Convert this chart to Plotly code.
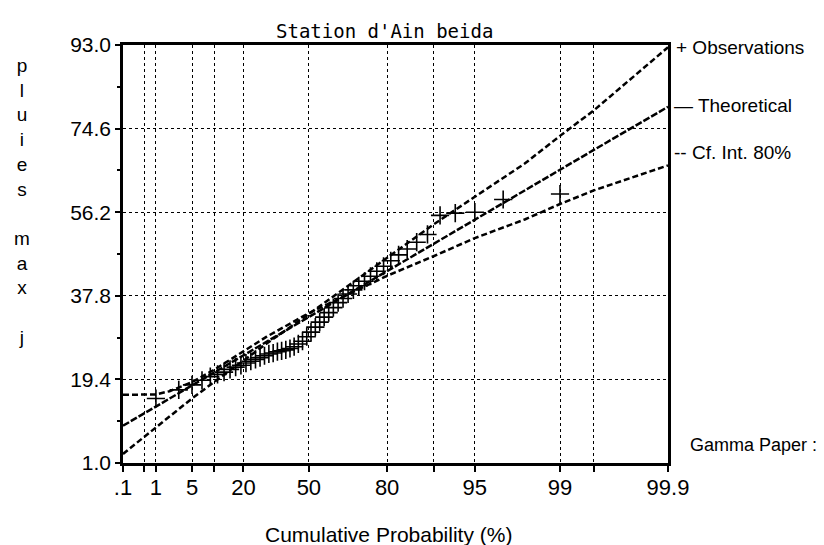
from statistics import NormalDist

import plotly.graph_objects as go

# gamma probability paper (shape 10), probabilities in %
PAPER_SHAPE = 10

obs_prob = [1, 3, 5, 7, 9, 11, 13, 15, 17, 19, 21, 23, 25, 27, 29, 31, 33, 35, 37, 39,
            41, 43, 45, 47, 49, 51, 53, 55, 57, 59, 61, 63, 65, 67, 69, 71, 73, 75, 77, 79,
            81, 83, 85, 87, 89, 91, 93, 95, 97, 99]
obs_rain = [15.2, 17.1, 18.2, 19.2, 20.0, 20.5, 21.0, 21.6, 22.1, 22.5, 23.0, 23.4, 23.8, 24.2,
            24.6, 25.0, 25.2, 25.5, 25.7, 25.9, 26.2, 26.6, 27.2, 27.8, 28.8, 29.8, 30.9, 32.0,
            33.1, 34.1, 35.2, 36.3, 37.2, 38.2, 39.1, 40.0, 41.0, 42.1, 43.2, 44.3, 45.5, 46.8,
            48.1, 49.6, 51.3, 55.5, 56.0, 56.2, 59.0, 60.2]

curve_prob = [0.1, 0.5, 1, 2, 5, 10, 20, 30, 50, 70, 80, 90, 95, 98, 99, 99.5, 99.9]
theoretical = [9.2, 11.9, 13.4, 15.2, 18.1, 20.9, 24.7, 27.7, 33.1, 39.2, 43.2, 49.3, 54.6,
               61.0, 65.6, 69.9, 79.4]
ci_upper = [3.0, 6.8, 8.9, 11.3, 15.2, 18.8, 23.6, 27.3, 33.8, 41.3, 46.2, 53.5, 59.6,
            66.9, 73.0, 78.6, 92.5]
ci_lower = [16.0, 16.0, 16.1, 16.8, 18.8, 21.5, 25.5, 28.8, 34.0, 39.0, 42.2, 46.5, 50.5,
            54.6, 58.0, 61.0, 66.5]

grid_prob = [0.1, 0.5, 1, 5, 10, 20, 50, 80, 90, 95, 99, 99.5, 99.9]
grid_text = [".1", "", "1", "5", "", "20", "50", "80", "", "95", "99", "", "99.9"]
y_ticks = [1.0, 19.4, 37.8, 56.2, 74.6, 93.0]


def paper(p):
    """gamma quantile (Wilson-Hilferty) used as the paper's x scale"""
    z = NormalDist().inv_cdf(p / 100.0)
    c = 1.0 / (9 * PAPER_SHAPE)
    return PAPER_SHAPE * (1 - c + z * c ** 0.5) ** 3


SANS = "Liberation Sans, Arial, sans-serif"
MONO = "DejaVu Sans Mono, Liberation Mono, monospace"


def font(size, family=SANS):
    return dict(family=family, size=size, color="black")


fig = go.Figure()
line_style = dict(color="black", width=2.5, dash="6px,3px")
fig.add_trace(go.Scatter(x=[paper(p) for p in curve_prob], y=ci_upper, mode="lines",
                         line=line_style, name="Cf. Int. 80%"))
fig.add_trace(go.Scatter(x=[paper(p) for p in curve_prob], y=theoretical, mode="lines",
                         line=dict(color="black", width=2.5, dash="7px,2px"), name="Theoretical"))
fig.add_trace(go.Scatter(x=[paper(p) for p in curve_prob], y=ci_lower, mode="lines",
                         line=line_style, name="Cf. Int. 80%"))
fig.add_trace(go.Scatter(x=[paper(p) for p in obs_prob], y=obs_rain, mode="markers",
                         marker=dict(symbol="cross-thin", size=13,
                                     line=dict(color="black", width=1.6)),
                         name="Observations"))

fig.update_layout(
    width=824, height=545,
    margin=dict(l=115, r=164, t=37, b=90),
    paper_bgcolor="white", plot_bgcolor="white",
    showlegend=False,
)

fig.update_xaxes(
    range=[paper(0.1), paper(99.9)],
    tickmode="array", tickvals=[paper(p) for p in grid_prob], ticktext=grid_text,
    ticks="outside", ticklen=6, tickcolor="black", tickwidth=1.5,
    tickfont=font(22), ticklabelstandoff=-3,
    showgrid=True, gridcolor="black", griddash="dot", gridwidth=1,
    showline=True, linecolor="black", linewidth=2.5, mirror=True, zeroline=False,
)
fig.update_yaxes(
    range=[1.0, 93.0],
    tickmode="array", tickvals=y_ticks, ticktext=[f"{v:.1f}" for v in y_ticks],
    ticks="outside", ticklen=5, tickcolor="black", tickwidth=1.5,
    tickfont=font(21),
    minor=dict(tickvals=[10.2, 28.6, 47.0, 65.4, 83.8], ticks="outside", ticklen=3,
               tickcolor="black", showgrid=False),
    showgrid=True, gridcolor="black", griddash="dot", gridwidth=1,
    showline=True, linecolor="black", linewidth=2.5, mirror=True, zeroline=False,
)

side_font = font(19)
fig.add_annotation(text="Station d'Ain beida", xref="paper", yref="paper", x=0.479, y=1.034,
                   xanchor="center", yanchor="middle", showarrow=False, font=font(19, MONO))
fig.add_annotation(text="+ Observations", xref="paper", yref="paper", x=1, y=0.993,
                   xanchor="left", yanchor="middle", xshift=6, showarrow=False, font=side_font)
fig.add_annotation(text="\u2014 Theoretical", xref="paper", yref="paper", x=1, y=0.856,
                   xanchor="left", yanchor="middle", xshift=4, showarrow=False, font=side_font)
fig.add_annotation(text="-- Cf. Int. 80%", xref="paper", yref="paper", x=1, y=0.744,
                   xanchor="left", yanchor="middle", xshift=4, showarrow=False, font=side_font)
fig.add_annotation(text="Gamma Paper :", xref="paper", yref="paper", x=1, y=0.043,
                   xanchor="left", yanchor="middle", xshift=20, showarrow=False, font=font(18))
fig.add_annotation(text="Cumulative Probability (%)", xref="paper", yref="paper", x=0.488,
                   y=-0.17, xanchor="center", yanchor="middle", showarrow=False,
                   font=font(21))
fig.add_annotation(text="<br>".join(list("pluies") + [" "] + list("max") + [" ", "j"]),
                   xref="paper", yref="paper", x=-0.185, y=0.625, xanchor="center",
                   yanchor="middle", showarrow=False, font=font(19))

fig.write_html("out.html")
